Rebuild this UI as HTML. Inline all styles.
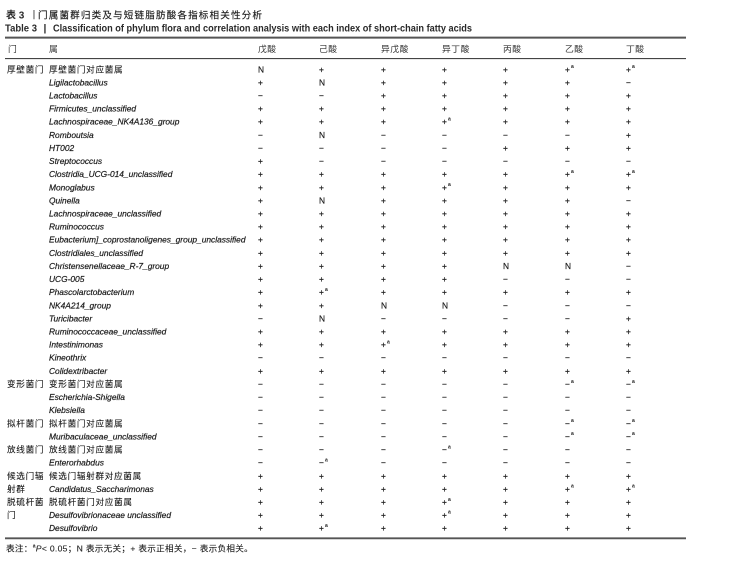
<!DOCTYPE html>
<html>
<head>
<meta charset="utf-8">
<style>
html,body{margin:0;padding:0;background:#fff;}
svg{display:block;}
text{font-family:"Liberation Sans","Noto Sans CJK SC",sans-serif;font-size:8.4px;fill:#1a1a1a;stroke:#1a1a1a;stroke-width:0.2px;}
.i{font-style:italic;}
.c{font-size:8.6px;letter-spacing:0.7px;stroke-width:0.1px;}
.s{font-size:5px;font-weight:bold;stroke-width:0;}
.h{font-size:8.8px;letter-spacing:0.5px;fill:#333;stroke-width:0;}
.t{stroke-width:0;}
</style>
</head>
<body>
<svg width="744" height="564" viewBox="0 0 744 564" xmlns="http://www.w3.org/2000/svg">
<rect width="744" height="564" fill="#fff"/>
<!-- Titles -->
<text class="t" x="6" y="18.5" style="font-size:10px;font-weight:bold;fill:#2a2a2a">表 3</text>
<text class="t" x="29" y="18.5" style="font-size:10px;fill:#2a2a2a">丨</text>
<text x="38" y="18.5" textLength="224" lengthAdjust="spacing" style="font-size:9.6px;fill:#222;stroke:#222;stroke-width:0.15px">门属菌群归类及与短链脂肪酸各指标相关性分析</text>
<text class="t" x="5" y="31.7" textLength="32" lengthAdjust="spacingAndGlyphs" style="font-size:10.3px;font-weight:bold;fill:#2a2a2a">Table 3</text>
<text class="t" x="43.5" y="31.7" style="font-size:10.3px;font-weight:bold;fill:#2a2a2a">|</text>
<text class="t" x="53" y="31.7" textLength="419" lengthAdjust="spacingAndGlyphs" style="font-size:10.3px;font-weight:bold;fill:#2a2a2a">Classification of phylum flora and correlation analysis with each index of short-chain fatty acids</text>

<!-- Rules -->
<line x1="5" x2="686" y1="37.6" y2="37.6" stroke="#555" stroke-width="2"/>
<line x1="5" x2="686" y1="58.6" y2="58.6" stroke="#444" stroke-width="1.1"/>
<line x1="5" x2="686" y1="538.3" y2="538.3" stroke="#555" stroke-width="1.8"/>

<!-- Header -->
<g transform="translate(0,51.8)">
<text x="8" class="h">门</text>
<text x="49" class="h">属</text>
<text x="258" class="h">戊酸</text>
<text x="319" class="h">己酸</text>
<text x="381" class="h">异戊酸</text>
<text x="442" class="h">异丁酸</text>
<text x="503" class="h">丙酸</text>
<text x="565" class="h">乙酸</text>
<text x="626" class="h">丁酸</text>
</g>

<!-- Rows -->
<g transform="translate(0,72.5)">
<text x="7" class="c">厚壁菌门</text><text x="49" class="c">厚壁菌门对应菌属</text>
<text x="258">N</text><text x="319">+</text><text x="381">+</text><text x="442">+</text><text x="503">+</text><text x="565">+</text><text x="571" y="-4.3" class="s">a</text><text x="626">+</text><text x="632" y="-4.3" class="s">a</text>
</g>
<g transform="translate(0,85.4)">
<text x="49" class="i">Ligilactobacillus</text>
<text x="258">+</text><text x="319">N</text><text x="381">+</text><text x="442">+</text><text x="503">+</text><text x="565">+</text><text x="626">−</text>
</g>
<g transform="translate(0,98.5)">
<text x="49" class="i">Lactobacillus</text>
<text x="258">−</text><text x="319">−</text><text x="381">+</text><text x="442">+</text><text x="503">+</text><text x="565">+</text><text x="626">+</text>
</g>
<g transform="translate(0,111.6)">
<text x="49" class="i">Firmicutes_unclassified</text>
<text x="258">+</text><text x="319">+</text><text x="381">+</text><text x="442">+</text><text x="503">+</text><text x="565">+</text><text x="626">+</text>
</g>
<g transform="translate(0,124.7)">
<text x="49" class="i">Lachnospiraceae_NK4A136_group</text>
<text x="258">+</text><text x="319">+</text><text x="381">+</text><text x="442">+</text><text x="448" y="-4.3" class="s">a</text><text x="503">+</text><text x="565">+</text><text x="626">+</text>
</g>
<g transform="translate(0,137.9)">
<text x="49" class="i">Romboutsia</text>
<text x="258">−</text><text x="319">N</text><text x="381">−</text><text x="442">−</text><text x="503">−</text><text x="565">−</text><text x="626">+</text>
</g>
<g transform="translate(0,151.0)">
<text x="49" class="i">HT002</text>
<text x="258">−</text><text x="319">−</text><text x="381">−</text><text x="442">−</text><text x="503">+</text><text x="565">+</text><text x="626">+</text>
</g>
<g transform="translate(0,164.1)">
<text x="49" class="i">Streptococcus</text>
<text x="258">+</text><text x="319">−</text><text x="381">−</text><text x="442">−</text><text x="503">−</text><text x="565">−</text><text x="626">−</text>
</g>
<g transform="translate(0,177.2)">
<text x="49" class="i">Clostridia_UCG-014_unclassified</text>
<text x="258">+</text><text x="319">+</text><text x="381">+</text><text x="442">+</text><text x="503">+</text><text x="565">+</text><text x="571" y="-4.3" class="s">a</text><text x="626">+</text><text x="632" y="-4.3" class="s">a</text>
</g>
<g transform="translate(0,190.3)">
<text x="49" class="i">Monoglabus</text>
<text x="258">+</text><text x="319">+</text><text x="381">+</text><text x="442">+</text><text x="448" y="-4.3" class="s">a</text><text x="503">+</text><text x="565">+</text><text x="626">+</text>
</g>
<g transform="translate(0,203.4)">
<text x="49" class="i">Quinella</text>
<text x="258">+</text><text x="319">N</text><text x="381">+</text><text x="442">+</text><text x="503">+</text><text x="565">+</text><text x="626">−</text>
</g>
<g transform="translate(0,216.5)">
<text x="49" class="i">Lachnospiraceae_unclassified</text>
<text x="258">+</text><text x="319">+</text><text x="381">+</text><text x="442">+</text><text x="503">+</text><text x="565">+</text><text x="626">+</text>
</g>
<g transform="translate(0,229.6)">
<text x="49" class="i">Ruminococcus</text>
<text x="258">+</text><text x="319">+</text><text x="381">+</text><text x="442">+</text><text x="503">+</text><text x="565">+</text><text x="626">+</text>
</g>
<g transform="translate(0,242.7)">
<text x="49" class="i">Eubacterium]_coprostanoligenes_group_unclassified</text>
<text x="258">+</text><text x="319">+</text><text x="381">+</text><text x="442">+</text><text x="503">+</text><text x="565">+</text><text x="626">+</text>
</g>
<g transform="translate(0,255.8)">
<text x="49" class="i">Clostridiales_unclassified</text>
<text x="258">+</text><text x="319">+</text><text x="381">+</text><text x="442">+</text><text x="503">+</text><text x="565">+</text><text x="626">+</text>
</g>
<g transform="translate(0,268.9)">
<text x="49" class="i">Christensenellaceae_R-7_group</text>
<text x="258">+</text><text x="319">+</text><text x="381">+</text><text x="442">+</text><text x="503">N</text><text x="565">N</text><text x="626">−</text>
</g>
<g transform="translate(0,282.1)">
<text x="49" class="i">UCG-005</text>
<text x="258">+</text><text x="319">+</text><text x="381">+</text><text x="442">+</text><text x="503">−</text><text x="565">−</text><text x="626">−</text>
</g>
<g transform="translate(0,295.2)">
<text x="49" class="i">Phascolarctobacterium</text>
<text x="258">+</text><text x="319">+</text><text x="325" y="-4.3" class="s">a</text><text x="381">+</text><text x="442">+</text><text x="503">+</text><text x="565">+</text><text x="626">+</text>
</g>
<g transform="translate(0,308.3)">
<text x="49" class="i">NK4A214_group</text>
<text x="258">+</text><text x="319">+</text><text x="381">N</text><text x="442">N</text><text x="503">−</text><text x="565">−</text><text x="626">−</text>
</g>
<g transform="translate(0,321.4)">
<text x="49" class="i">Turicibacter</text>
<text x="258">−</text><text x="319">N</text><text x="381">−</text><text x="442">−</text><text x="503">−</text><text x="565">−</text><text x="626">+</text>
</g>
<g transform="translate(0,334.5)">
<text x="49" class="i">Ruminococcaceae_unclassified</text>
<text x="258">+</text><text x="319">+</text><text x="381">+</text><text x="442">+</text><text x="503">+</text><text x="565">+</text><text x="626">+</text>
</g>
<g transform="translate(0,347.6)">
<text x="49" class="i">Intestinimonas</text>
<text x="258">+</text><text x="319">+</text><text x="381">+</text><text x="387" y="-4.3" class="s">a</text><text x="442">+</text><text x="503">+</text><text x="565">+</text><text x="626">+</text>
</g>
<g transform="translate(0,360.7)">
<text x="49" class="i">Kineothrix</text>
<text x="258">−</text><text x="319">−</text><text x="381">−</text><text x="442">−</text><text x="503">−</text><text x="565">−</text><text x="626">−</text>
</g>
<g transform="translate(0,373.8)">
<text x="49" class="i">Colidextribacter</text>
<text x="258">+</text><text x="319">+</text><text x="381">+</text><text x="442">+</text><text x="503">+</text><text x="565">+</text><text x="626">+</text>
</g>
<g transform="translate(0,387.1)">
<text x="7" class="c">变形菌门</text><text x="49" class="c">变形菌门对应菌属</text>
<text x="258">−</text><text x="319">−</text><text x="381">−</text><text x="442">−</text><text x="503">−</text><text x="565">−</text><text x="571" y="-4.3" class="s">a</text><text x="626">−</text><text x="632" y="-4.3" class="s">a</text>
</g>
<g transform="translate(0,400.0)">
<text x="49" class="i">Escherichia-Shigella</text>
<text x="258">−</text><text x="319">−</text><text x="381">−</text><text x="442">−</text><text x="503">−</text><text x="565">−</text><text x="626">−</text>
</g>
<g transform="translate(0,413.2)">
<text x="49" class="i">Klebsiella</text>
<text x="258">−</text><text x="319">−</text><text x="381">−</text><text x="442">−</text><text x="503">−</text><text x="565">−</text><text x="626">−</text>
</g>
<g transform="translate(0,426.5)">
<text x="7" class="c">拟杆菌门</text><text x="49" class="c">拟杆菌门对应菌属</text>
<text x="258">−</text><text x="319">−</text><text x="381">−</text><text x="442">−</text><text x="503">−</text><text x="565">−</text><text x="571" y="-4.3" class="s">a</text><text x="626">−</text><text x="632" y="-4.3" class="s">a</text>
</g>
<g transform="translate(0,439.4)">
<text x="49" class="i">Muribaculaceae_unclassified</text>
<text x="258">−</text><text x="319">−</text><text x="381">−</text><text x="442">−</text><text x="503">−</text><text x="565">−</text><text x="571" y="-4.3" class="s">a</text><text x="626">−</text><text x="632" y="-4.3" class="s">a</text>
</g>
<g transform="translate(0,452.7)">
<text x="7" class="c">放线菌门</text><text x="49" class="c">放线菌门对应菌属</text>
<text x="258">−</text><text x="319">−</text><text x="381">−</text><text x="442">−</text><text x="448" y="-4.3" class="s">a</text><text x="503">−</text><text x="565">−</text><text x="626">−</text>
</g>
<g transform="translate(0,465.6)">
<text x="49" class="i">Enterorhabdus</text>
<text x="258">−</text><text x="319">−</text><text x="325" y="-4.3" class="s">a</text><text x="381">−</text><text x="442">−</text><text x="503">−</text><text x="565">−</text><text x="626">−</text>
</g>
<g transform="translate(0,478.9)">
<text x="7" class="c">候选门辐</text><text x="49" class="c">候选门辐射群对应菌属</text>
<text x="258">+</text><text x="319">+</text><text x="381">+</text><text x="442">+</text><text x="503">+</text><text x="565">+</text><text x="626">+</text>
</g>
<g transform="translate(0,491.8)">
<text x="7" class="c">射群</text><text x="49" class="i">Candidatus_Saccharimonas</text>
<text x="258">+</text><text x="319">+</text><text x="381">+</text><text x="442">+</text><text x="503">+</text><text x="565">+</text><text x="571" y="-4.3" class="s">a</text><text x="626">+</text><text x="632" y="-4.3" class="s">a</text>
</g>
<g transform="translate(0,505.1)">
<text x="7" class="c">脱硫杆菌</text><text x="49" class="c">脱硫杆菌门对应菌属</text>
<text x="258">+</text><text x="319">+</text><text x="381">+</text><text x="442">+</text><text x="448" y="-4.3" class="s">a</text><text x="503">+</text><text x="565">+</text><text x="626">+</text>
</g>
<g transform="translate(0,518.0)">
<text x="7" class="c">门</text><text x="49" class="i">Desulfovibrionaceae unclassified</text>
<text x="258">+</text><text x="319">+</text><text x="381">+</text><text x="442">+</text><text x="448" y="-4.3" class="s">a</text><text x="503">+</text><text x="565">+</text><text x="626">+</text>
</g>
<g transform="translate(0,531.1)">
<text x="49" class="i">Desulfovibrio</text>
<text x="258">+</text><text x="319">+</text><text x="325" y="-4.3" class="s">a</text><text x="381">+</text><text x="442">+</text><text x="503">+</text><text x="565">+</text><text x="626">+</text>
</g>

<!-- Footnote -->
<text x="6" y="551.3" style="font-size:8.6px;letter-spacing:0.3px;fill:#222;stroke-width:0.1px">表注：<tspan class="s" dy="-4">a</tspan><tspan dy="4" font-style="italic">P</tspan>&lt; 0.05；N 表示无关；+ 表示正相关，− 表示负相关。</text>
</svg>
</body>
</html>
